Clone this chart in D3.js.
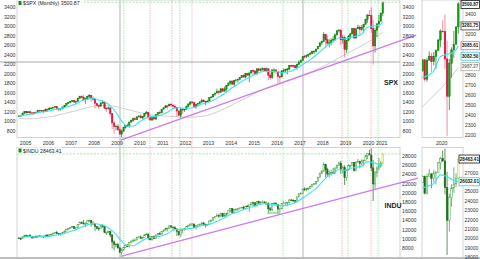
<!DOCTYPE html>
<html>
<head>
<meta charset="utf-8">
<script src="https://cdn.jsdelivr.net/npm/d3@7"></script>
<style>
  body { margin: 0; background: #fff; }
  svg { display: block; font-family: "Liberation Sans", Arial, sans-serif; }
</style>
</head>
<body>
<div id="chart"></div>
<script>
// monthly bars Sep 2004 .. Aug 2020 (open of a month = close of the month before)
const firstMonth = new Date(Date.UTC(2004, 8, 1));

const spxFirstOpen = 1104.2;
const spxClose = [
  1114.6, 1130.2, 1173.8, 1211.9,
  1181.3, 1203.6, 1180.6, 1156.9, 1191.5, 1191.3, 1234.2, 1220.3, 1228.8, 1207.0, 1249.5, 1248.3,
  1280.1, 1280.7, 1294.9, 1310.6, 1270.1, 1270.2, 1276.7, 1303.8, 1335.9, 1377.9, 1400.6, 1418.3,
  1438.2, 1406.8, 1420.9, 1482.4, 1530.6, 1503.4, 1455.3, 1474.0, 1526.8, 1549.4, 1481.1, 1468.4,
  1378.6, 1330.6, 1322.7, 1385.6, 1400.4, 1280.0, 1267.4, 1282.8, 1166.4, 968.8, 896.2, 903.3,
  825.9, 735.1, 797.9, 872.8, 919.1, 919.3, 987.5, 1020.6, 1057.1, 1036.2, 1095.6, 1115.1,
  1073.9, 1104.5, 1169.4, 1186.7, 1089.4, 1030.7, 1101.6, 1049.3, 1141.2, 1183.3, 1180.6, 1257.6,
  1286.1, 1327.2, 1325.8, 1363.6, 1345.2, 1320.6, 1292.3, 1218.9, 1131.4, 1253.3, 1247.0, 1257.6,
  1312.4, 1365.7, 1408.5, 1397.9, 1310.3, 1362.2, 1379.3, 1406.6, 1440.7, 1412.2, 1416.2, 1426.2,
  1498.1, 1514.7, 1569.2, 1597.6, 1630.7, 1606.3, 1685.7, 1633.0, 1681.6, 1756.5, 1805.8, 1848.4,
  1782.6, 1859.5, 1872.3, 1884.0, 1923.6, 1960.2, 1930.7, 2003.4, 1972.3, 2018.1, 2067.6, 2058.9,
  1995.0, 2104.5, 2067.9, 2085.5, 2107.4, 2063.1, 2103.8, 1972.2, 1920.0, 2079.4, 2080.4, 2043.9,
  1940.2, 1932.2, 2059.7, 2065.3, 2097.0, 2098.9, 2173.6, 2171.0, 2168.3, 2126.2, 2198.8, 2238.8,
  2278.9, 2363.6, 2362.7, 2384.2, 2411.8, 2423.4, 2470.3, 2471.7, 2519.4, 2575.3, 2647.6, 2673.6,
  2823.8, 2713.8, 2640.9, 2648.1, 2705.3, 2718.4, 2816.3, 2901.5, 2914.0, 2711.7, 2760.2, 2506.9,
  2704.1, 2784.5, 2834.4, 2945.8, 2752.1, 2941.8, 2980.4, 2926.5, 2976.7, 3037.6, 3141.0, 3230.8,
  3225.5, 2954.2, 2584.6, 2912.4, 3044.3, 3100.3, 3271.1, 3500.87
];
const spxHigh = [
  1131, 1142, 1188, 1217,
  1217, 1212, 1229, 1192, 1199, 1219, 1246, 1245, 1243, 1233, 1270, 1276,
  1295, 1297, 1310, 1318, 1327, 1284, 1280, 1306, 1340, 1389, 1407, 1431,
  1441, 1461, 1438, 1498, 1535, 1540, 1556, 1504, 1539, 1576, 1545, 1523,
  1471, 1396, 1359, 1397, 1440, 1404, 1293, 1314, 1303, 1168, 1007, 919,
  944, 876, 832, 878, 930, 956, 994, 1040, 1081, 1101, 1113, 1130,
  1150, 1113, 1180, 1220, 1206, 1131, 1120, 1130, 1149, 1196, 1228, 1262,
  1303, 1345, 1333, 1366, 1371, 1346, 1357, 1307, 1229, 1293, 1277, 1269,
  1334, 1378, 1419, 1423, 1416, 1364, 1391, 1427, 1475, 1470, 1434, 1448,
  1509, 1530, 1570, 1598, 1688, 1654, 1698, 1709, 1730, 1765, 1814, 1850,
  1851, 1867, 1884, 1898, 1925, 1968, 1992, 2006, 2019, 2018, 2075, 2094,
  2065, 2120, 2118, 2126, 2135, 2130, 2133, 2113, 2021, 2094, 2116, 2104,
  2039, 1963, 2073, 2111, 2104, 2121, 2178, 2194, 2188, 2169, 2214, 2278,
  2301, 2371, 2400, 2399, 2418, 2454, 2484, 2491, 2520, 2582, 2657, 2695,
  2873, 2836, 2801, 2718, 2743, 2791, 2848, 2916, 2941, 2940, 2815, 2800,
  2708, 2813, 2861, 2949, 2955, 2964, 3028, 3014, 3022, 3050, 3154, 3248,
  3338, 3394, 3136, 2955, 3068, 3233, 3280, 3515
];
const spxLow = [
  1099, 1090, 1127, 1163,
  1163, 1180, 1163, 1137, 1147, 1188, 1183, 1201, 1201, 1169, 1201, 1246,
  1245, 1253, 1268, 1280, 1245, 1219, 1224, 1253, 1290, 1327, 1360, 1385,
  1403, 1389, 1364, 1416, 1476, 1485, 1454, 1370, 1451, 1489, 1406, 1436,
  1270, 1316, 1257, 1312, 1373, 1272, 1200, 1248, 1106, 840, 741, 815,
  805, 735, 666, 783, 849, 889, 869, 979, 991, 1020, 1029, 1085,
  1071, 1045, 1105, 1170, 1040, 1029, 1011, 1040, 1040, 1132, 1173, 1187,
  1257, 1290, 1249, 1312, 1312, 1258, 1283, 1101, 1114, 1075, 1159, 1202,
  1259, 1312, 1340, 1358, 1292, 1267, 1326, 1355, 1397, 1403, 1343, 1398,
  1426, 1486, 1501, 1536, 1582, 1560, 1605, 1627, 1633, 1646, 1746, 1767,
  1770, 1738, 1834, 1815, 1860, 1915, 1916, 1905, 1964, 1821, 2002, 1973,
  1988, 1981, 2040, 2048, 2068, 2057, 2045, 1867, 1872, 1893, 2019, 1993,
  1812, 1810, 1937, 2034, 2025, 1992, 2075, 2147, 2120, 2114, 2084, 2187,
  2245, 2272, 2322, 2329, 2344, 2405, 2407, 2418, 2446, 2520, 2557, 2606,
  2683, 2533, 2586, 2553, 2594, 2698, 2698, 2796, 2864, 2604, 2631, 2346,
  2443, 2681, 2723, 2848, 2728, 2729, 2952, 2822, 2892, 2856, 3050, 3070,
  3215, 2855, 2192, 2447, 2767, 2965, 3101, 3205
];

const induFirstOpen = 10174;
const induClose = [
  10080, 10027, 10428, 10783,
  10490, 10766, 10504, 10193, 10467, 10275, 10641, 10482, 10569, 10440, 10806, 10718,
  10865, 10993, 11109, 11367, 11168, 11150, 11186, 11381, 11679, 12081, 12222, 12463,
  12622, 12269, 12354, 13063, 13628, 13409, 13212, 13358, 13896, 13930, 13372, 13265,
  12650, 12266, 12263, 12820, 12638, 11350, 11378, 11544, 10851, 9325, 8829, 8776,
  8001, 7063, 7609, 8168, 8500, 8447, 9172, 9496, 9712, 9713, 10345, 10428,
  10067, 10325, 10857, 11009, 10137, 9774, 10466, 10015, 10788, 11118, 11006, 11578,
  11892, 12226, 12320, 12811, 12570, 12414, 12143, 11614, 10913, 11955, 12046, 12218,
  12633, 12952, 13212, 13214, 12393, 12880, 13009, 13091, 13437, 13096, 13026, 13104,
  13861, 14054, 14579, 14840, 15116, 14910, 15500, 14810, 15130, 15546, 16086, 16577,
  15699, 16322, 16458, 16581, 16717, 16827, 16563, 17098, 17043, 17391, 17828, 17823,
  17165, 18133, 17776, 17841, 18011, 17620, 17690, 16528, 16285, 17664, 17720, 17425,
  16466, 16517, 17685, 17774, 17787, 17930, 18432, 18401, 18308, 18142, 19124, 19763,
  19864, 20812, 20663, 20941, 21009, 21350, 21891, 21948, 22405, 23377, 24272, 24719,
  26149, 25029, 24103, 24163, 24416, 24271, 25415, 25965, 26458, 25116, 25538, 23327,
  24999, 25916, 25929, 26593, 24815, 26600, 26864, 26403, 26917, 27046, 28051, 28538,
  28256, 25409, 21917, 24346, 25383, 25813, 26428, 28463.41
];
const induHigh = [
  10343, 10222, 10550, 10868,
  10854, 10842, 10984, 10615, 10551, 10717, 10720, 10719, 10719, 10655, 10863, 10985,
  11043, 11137, 11350, 11430, 11710, 11280, 11260, 11400, 11720, 12160, 12360, 12540,
  12700, 12800, 12590, 13150, 13700, 13700, 14120, 13560, 14050, 14200, 13950, 13800,
  13300, 12760, 12600, 12980, 13160, 12700, 11550, 11800, 11790, 10880, 9650, 9030,
  9120, 8300, 7950, 8260, 8630, 8880, 9200, 9630, 9920, 10120, 10480, 10580,
  10730, 10400, 10950, 11260, 11210, 10600, 10600, 10720, 10950, 11240, 11450, 11630,
  11990, 12390, 12420, 12880, 12880, 12560, 12750, 12280, 11720, 12280, 12190, 12290,
  12840, 13050, 13290, 13340, 13340, 12900, 13140, 13330, 13660, 13660, 13300, 13250,
  13970, 14150, 14590, 14890, 15540, 15340, 15640, 15660, 15710, 15700, 16170, 16590,
  16590, 16390, 16590, 16630, 16740, 16960, 17150, 17150, 17350, 17400, 17900, 18100,
  18000, 18250, 18290, 18180, 18350, 18170, 18140, 17950, 16930, 17800, 17980, 17980,
  17430, 16750, 17790, 18170, 17940, 18020, 18620, 18670, 18540, 18400, 19150, 19990,
  20120, 20890, 21170, 21070, 21110, 21530, 21930, 22180, 22420, 23490, 24330, 24880,
  26620, 26310, 25450, 24860, 25090, 25400, 25530, 26170, 26770, 26950, 25990, 25980,
  25080, 26240, 26110, 26700, 26700, 26910, 27400, 26960, 27310, 27200, 28170, 28700,
  29370, 29570, 27100, 24760, 25760, 27580, 26960, 28500
];
const induLow = [
  9999, 9708, 10025, 10379,
  10368, 10370, 10404, 10012, 10094, 10250, 10270, 10397, 10319, 10156, 10350, 10690,
  10650, 10730, 10900, 11050, 10970, 10700, 10680, 11020, 11260, 11640, 11970, 12170,
  12340, 12170, 11900, 12370, 13010, 13240, 13170, 12500, 13000, 13650, 12700, 13050,
  11630, 12040, 11730, 12210, 12430, 11290, 10830, 11150, 10370, 7880, 7450, 8120,
  7900, 7010, 6470, 7440, 8000, 8200, 8080, 9030, 9250, 9590, 9680, 10230,
  10030, 9830, 10330, 10850, 9770, 9760, 9610, 9940, 9940, 10760, 10930, 11000,
  11550, 11880, 11560, 12130, 12310, 11860, 12090, 10600, 10600, 10400, 11230, 11740,
  12150, 12630, 12790, 12710, 12390, 12040, 12490, 12990, 13020, 13040, 12470, 12880,
  13100, 13780, 13940, 14400, 14740, 14550, 14900, 14760, 14780, 14720, 15560, 15700,
  15700, 15340, 16000, 16020, 16330, 16680, 16560, 16330, 16940, 15850, 17220, 17070,
  17040, 17040, 17580, 17620, 17860, 17580, 17400, 15370, 15940, 16010, 17210, 17140,
  15450, 15500, 16450, 17480, 17330, 17060, 17710, 18250, 17990, 17960, 17890, 19000,
  19680, 19830, 20410, 20380, 20550, 20990, 21280, 21600, 21710, 22380, 23240, 24100,
  24660, 23360, 23510, 23340, 23750, 24080, 24080, 25120, 25910, 24120, 24270, 21710,
  22640, 24840, 25210, 25960, 24680, 24680, 26600, 25340, 25980, 25740, 27040, 27320,
  28170, 24680, 18210, 20740, 23360, 24840, 25460, 26240
];

// 10-month average (cyan), one value per quarter from Sep 2004, last one Aug 2020
const spxAvg10 = [
  1110, 1133,
  1154, 1174, 1200, 1211,  1243, 1264, 1287, 1326,  1365, 1432, 1466, 1489,
  1449, 1412, 1328, 1187,  1012, 900, 904, 982,  1058, 1096, 1106, 1139,
  1188, 1273, 1287, 1276,  1281, 1305, 1364, 1396,  1443, 1511, 1586, 1682,
  1753, 1838, 1904, 1969,  2018, 2054, 2048, 2052,  2019, 2032, 2075, 2140,
  2218, 2296, 2393, 2494,  2596, 2667, 2756, 2732,  2765, 2786, 2835, 2977,
  3000, 3021, 3082.5
];
const induAvg10 = [
  10280, 10384,
  10483, 10401, 10517, 10510,  10690, 10919, 11162, 11581,  11941, 12579, 13027, 13349,
  13162, 12845, 12103, 10977,  9473, 8557, 8494, 9159,  9856, 10237, 10387, 10675,
  11118, 11872, 12048, 12100,  12210, 12442, 12904, 13046,  13414, 14002, 14590, 15309,
  15704, 16194, 16589, 17033,  17365, 17663, 17487, 17458,  17160, 17325, 17673, 18335,
  19144, 19998, 20965, 22258,  23524, 24290, 25069, 24877,  25293, 25529, 25836, 26776,
  26600, 26168, 26032
];
// long average (grey), one value per half year from Sep 2004, last one Aug 2020
const spxAvgLong = [
  1060, 1055, 1075, 1110, 1165, 1225, 1290, 1335, 1330, 1280, 1220, 1165, 1130,
  1110, 1100, 1090, 1105, 1165, 1270, 1390, 1510, 1630, 1735, 1820, 1900, 1990,
  2085, 2200, 2330, 2460, 2590, 2730, 2870
];

// trend lines from the 2009 low
const spxTrend = [["2009-03-01", 610], ["2022-02-01", 2810]];
const induTrend = [["2009-03-01", 6200], ["2022-03-01", 23200]];
const induSupport = [["2015-08-01", 15600], ["2016-02-15", 15600]];
const spxLevel = 2245;

// event markers
const greyMarks = ["2009-02-17", "2017-02-18"];
const greenMarks = ["2009-04-20", "2011-10-01", "2016-04-05", "2019-02-07", "2020-06-03"];
const pinkMarks = ["2010-06-10", "2011-05-27", "2012-04-12", "2018-11-03", "2020-02-10"];

const years = d3.range(2005, 2022);
const spxTicks = d3.range(800, 3401, 200);
const induTicks = d3.range(8000, 28001, 2000);
const spxZoomTicks = d3.range(2200, 3401, 100);
const induZoomTicks = d3.range(18000, 29001, 1000);
const spxZoomTags = [
  { label: "3500.87", value: 3500.87, color: "#111" },
  { label: "3281.75", value: 3281.75, color: "#444" },
  { label: "3085.61", value: 3085.61, color: "#e060a8" },
  { label: "3082.50", value: 3082.50, color: "#30d0d8" },
  { label: "2987.27", value: 2987.27, color: "#aaa" }
];
const induZoomTags = [
  { label: "28463.41", value: 28463.41, color: "#111" },
  { label: "26032.01", value: 26032.01, color: "#30d0d8" }
];

// ---------------------------------------------------------------
const parse = d3.utcParse("%Y-%m-%d");
const mid = m => d3.utcDay.offset(m, 14);
const months = d3.utcMonth.range(firstMonth, d3.utcMonth.offset(firstMonth, spxClose.length));
const bars = (close, high, low, firstOpen) => close.map((c, i) => ({
  date: mid(months[i]), open: i ? close[i - 1] : firstOpen, high: high[i], low: low[i], close: c, last: i === close.length - 1
}));
const spxBars = bars(spxClose, spxHigh, spxLow, spxFirstOpen);
const induBars = bars(induClose, induHigh, induLow, induFirstOpen);

const qDates = d3.utcMonth.range(firstMonth, new Date(Date.UTC(2020, 6, 1)), 3).concat([new Date(Date.UTC(2020, 7, 1))]).map(mid);
const hDates = d3.utcMonth.range(firstMonth, new Date(Date.UTC(2020, 3, 1)), 6).concat([new Date(Date.UTC(2020, 7, 1))]).map(mid);

const svg = d3.select("#chart").append("svg").attr("width", 480).attr("height", 259);

const topP = { t: 0, b: 137.5 }, botP = { t: 147.5, b: 258 };
const mainX = d3.scaleUtc().domain([Date.UTC(2004, 7, 17), Date.UTC(2021, 4, 18)]).range([17, 400]);
const zoomX = d3.scaleUtc().domain([Date.UTC(2019, 3, 8), Date.UTC(2020, 9, 18)]).range([422, 463]);
const spxY = d3.scaleLinear().domain([800, 3400]).range([131, 7]);
const induY = d3.scaleLinear().domain([8000, 28000]).range([248, 156]);
const spxZoomY = d3.scaleLinear().domain([2200, 3400]).range([135, 14]);
const induZoomY = d3.scaleLinear().domain([18000, 29000]).range([257, 154]);

const defs = svg.append("defs");
function clipFor(id, x, p) {
  defs.append("clipPath").attr("id", id).append("rect")
    .attr("x", x.range()[0]).attr("y", p.t).attr("width", x.range()[1] - x.range()[0]).attr("height", p.b - p.t);
  return svg.append("g").attr("clip-path", `url(#${id})`);
}

// horizontal level across the price panel
svg.append("line").attr("x1", 0).attr("x2", mainX.range()[1])
  .attr("y1", spxY(spxLevel)).attr("y2", spxY(spxLevel))
  .attr("stroke", "#d4d4d4").attr("stroke-width", 2);

// event markers through both panels
const marks = svg.append("g");
function markLines(list, color, width, dash) {
  marks.selectAll(null).data(list.map(parse)).join("line")
    .attr("x1", d => mainX(d)).attr("x2", d => mainX(d))
    .attr("y1", topP.t).attr("y2", botP.b)
    .attr("stroke", color).attr("stroke-width", width).attr("stroke-dasharray", dash);
}
markLines(greyMarks, "#cfcfcf", 1.6, null);
markLines(greenMarks, "#9be29b", 0.8, "1.5,1");
markLines(pinkMarks, "#f2a6b6", 0.8, "1.5,1");

// frames
[[mainX, topP], [mainX, botP], [zoomX, topP], [zoomX, botP]].forEach(([x, p]) => {
  svg.append("rect").attr("x", x.range()[0]).attr("y", p.t)
    .attr("width", x.range()[1] - x.range()[0]).attr("height", p.b - p.t)
    .attr("fill", "none").attr("stroke", "#c8c8c8").attr("stroke-width", 0.8);
});
svg.append("line").attr("x1", 0).attr("x2", 480).attr("y1", botP.b).attr("y2", botP.b)
  .attr("stroke", "#bdbdbd").attr("stroke-width", 2);

function lineOf(g, dates, values, x, y, color, width) {
  g.append("path").datum(values.map((v, i) => [dates[i], v]))
    .attr("d", d3.line().x(d => x(d[0])).y(d => y(d[1])).curve(d3.curveMonotoneX))
    .attr("fill", "none").attr("stroke", color).attr("stroke-width", width);
}

const spxStyle = d => d.close >= d.open
  ? { fill: "#14a014", stroke: "#0c7c0c", wick: "#0c7c0c" }
  : { fill: "#e8123e", stroke: "#d0103a", wick: "#e8607e" };
const induStyle = d => d.last
  ? { fill: "#fff", stroke: "#c9c400", wick: "#c9c400" }
  : d.close >= d.open
    ? { fill: "#fff", stroke: "#3a9a3a", wick: "#3a9a3a" }
    : { fill: "#1d6b1d", stroke: "#1d6b1d", wick: "#1d6b1d" };

function candles(g, data, x, y, bw, style) {
  const c = g.selectAll(null).data(data).join("g");
  c.append("line")
    .attr("x1", d => x(d.date)).attr("x2", d => x(d.date))
    .attr("y1", d => y(Math.max(d.high, d.open, d.close)))
    .attr("y2", d => y(Math.min(d.low, d.open, d.close)))
    .attr("stroke", d => style(d).wick).attr("stroke-width", 0.7);
  c.append("rect")
    .attr("x", d => x(d.date) - bw / 2).attr("width", bw)
    .attr("y", d => y(Math.max(d.open, d.close)))
    .attr("height", d => Math.max(0.7, Math.abs(y(d.open) - y(d.close))))
    .attr("fill", d => style(d).fill).attr("stroke", d => style(d).stroke).attr("stroke-width", 0.5);
}

function panel(id, x, p, y, data, style, bw, avg, long) {
  const g = clipFor(id, x, p);
  if (long) lineOf(g, hDates, long, x, y, "#c4c4c4", 0.8);
  candles(g, data, x, y, bw, style);
  lineOf(g, qDates, avg, x, y, "#3fe3ec", 1.1);
  return g;
}

panel("c1", mainX, topP, spxY, spxBars, spxStyle, 1.4, spxAvg10, spxAvgLong);
panel("c2", mainX, botP, induY, induBars, induStyle, 1.4, induAvg10, null);
panel("c3", zoomX, topP, spxZoomY, spxBars, spxStyle, 1.6, spxAvg10, spxAvgLong);
panel("c4", zoomX, botP, induZoomY, induBars, induStyle, 1.6, induAvg10, null);

// last-close dashed lines
[[spxY, spxClose], [induY, induClose]].forEach(([y, c]) => {
  const v = y(c[c.length - 1]);
  svg.append("line").attr("x1", mainX.range()[0]).attr("x2", mainX.range()[1])
    .attr("y1", v).attr("y2", v).attr("stroke", "#a6e6a6").attr("stroke-width", 1)
    .attr("stroke-dasharray", "2,1.5");
});

// trend lines (run a little past the panel edge)
function trend(pts, y, color, width) {
  svg.append("path").datum(pts.map(([d, v]) => [parse(d), v]))
    .attr("d", d3.line().x(d => mainX(d[0])).y(d => y(d[1])))
    .attr("fill", "none").attr("stroke", color).attr("stroke-width", width);
}
trend(spxTrend, spxY, "#cc7bee", 1.3);
trend(induTrend, induY, "#cc7bee", 1.3);
trend(induSupport, induY, "#8fdf8f", 1.6);

// axes text
const txt = (g, x, y, s, size, anchor, fill, weight) => g.append("text")
  .attr("x", x).attr("y", y).attr("font-size", size).attr("text-anchor", anchor || "start")
  .attr("fill", fill || "#333").attr("font-weight", weight || "normal").attr("dominant-baseline", "central").text(s);
const labels = svg.append("g");

// value tags on the zoom panels, stacked so they do not collide
function tagSpots(list, y) {
  let prev = -Infinity;
  return list.map(t => (prev = Math.max(y(t.value), prev + 10.5, 4.5)));
}
const spxTagY = tagSpots(spxZoomTags, spxZoomY);
const induTagY = tagSpots(induZoomTags, induZoomY);
const free = (ys, v) => ys.every(t => Math.abs(t - v) > 7.5);

spxTicks.forEach(v => {
  txt(labels, 15.5, spxY(v), v, 5.2, "end");
  txt(labels, 402.5, spxY(v), v, 5.2);
});
induTicks.forEach(v => txt(labels, 402, induY(v), v, 5.2));
spxZoomTicks.filter(v => free(spxTagY, spxZoomY(v))).forEach(v => txt(labels, 465, spxZoomY(v), v, 5));
induZoomTicks.filter(v => free(induTagY, induZoomY(v))).forEach(v => txt(labels, 464.5, induZoomY(v), v, 5));

years.forEach((yr, i) => {
  const d = new Date(Date.UTC(yr, 0, 1));
  if (i === years.length - 1) txt(labels, mainX(d) - 4, 142.5, yr, 5.2, "end");
  else txt(labels, mainX(d), 142.5, yr, 5.2, "middle");
});
txt(labels, zoomX(new Date(Date.UTC(2020, 0, 1))), 142.5, "2020", 5.2, "middle");

function tags(list, ys, x0) {
  list.forEach((t, i) => {
    labels.append("rect").attr("x", x0).attr("y", ys[i] - 4).attr("width", 480 - x0 - 0.5).attr("height", 8)
      .attr("fill", "#fff").attr("stroke", t.color).attr("stroke-width", 0.8);
    txt(labels, x0 + 0.8, ys[i], t.label, 4.6, "start", t.color === "#aaa" ? "#777" : "#111", "bold");
  });
}
tags(spxZoomTags, spxTagY, 461);
tags(induZoomTags, induTagY, 459);

// titles
function title(yc, s) {
  svg.append("rect").attr("x", 17.5).attr("y", yc - 3).attr("width", s.length * 2.75 + 6).attr("height", 6).attr("fill", "#fff");
  svg.append("rect").attr("x", 18.5).attr("y", yc - 2).attr("width", 3).attr("height", 4).attr("fill", "#1b8a1b");
  txt(svg, 23, yc, s, 5.2, "start", "#222");
}
title(3, "$SPX (Monthly) 3500.87");
title(150.5, "$INDU 28463.41");

txt(svg, 391, 82, "SPX", 7, "middle", "#222", "bold");
txt(svg, 393, 205, "INDU", 7, "middle", "#222", "bold");
</script>
</body>
</html>
